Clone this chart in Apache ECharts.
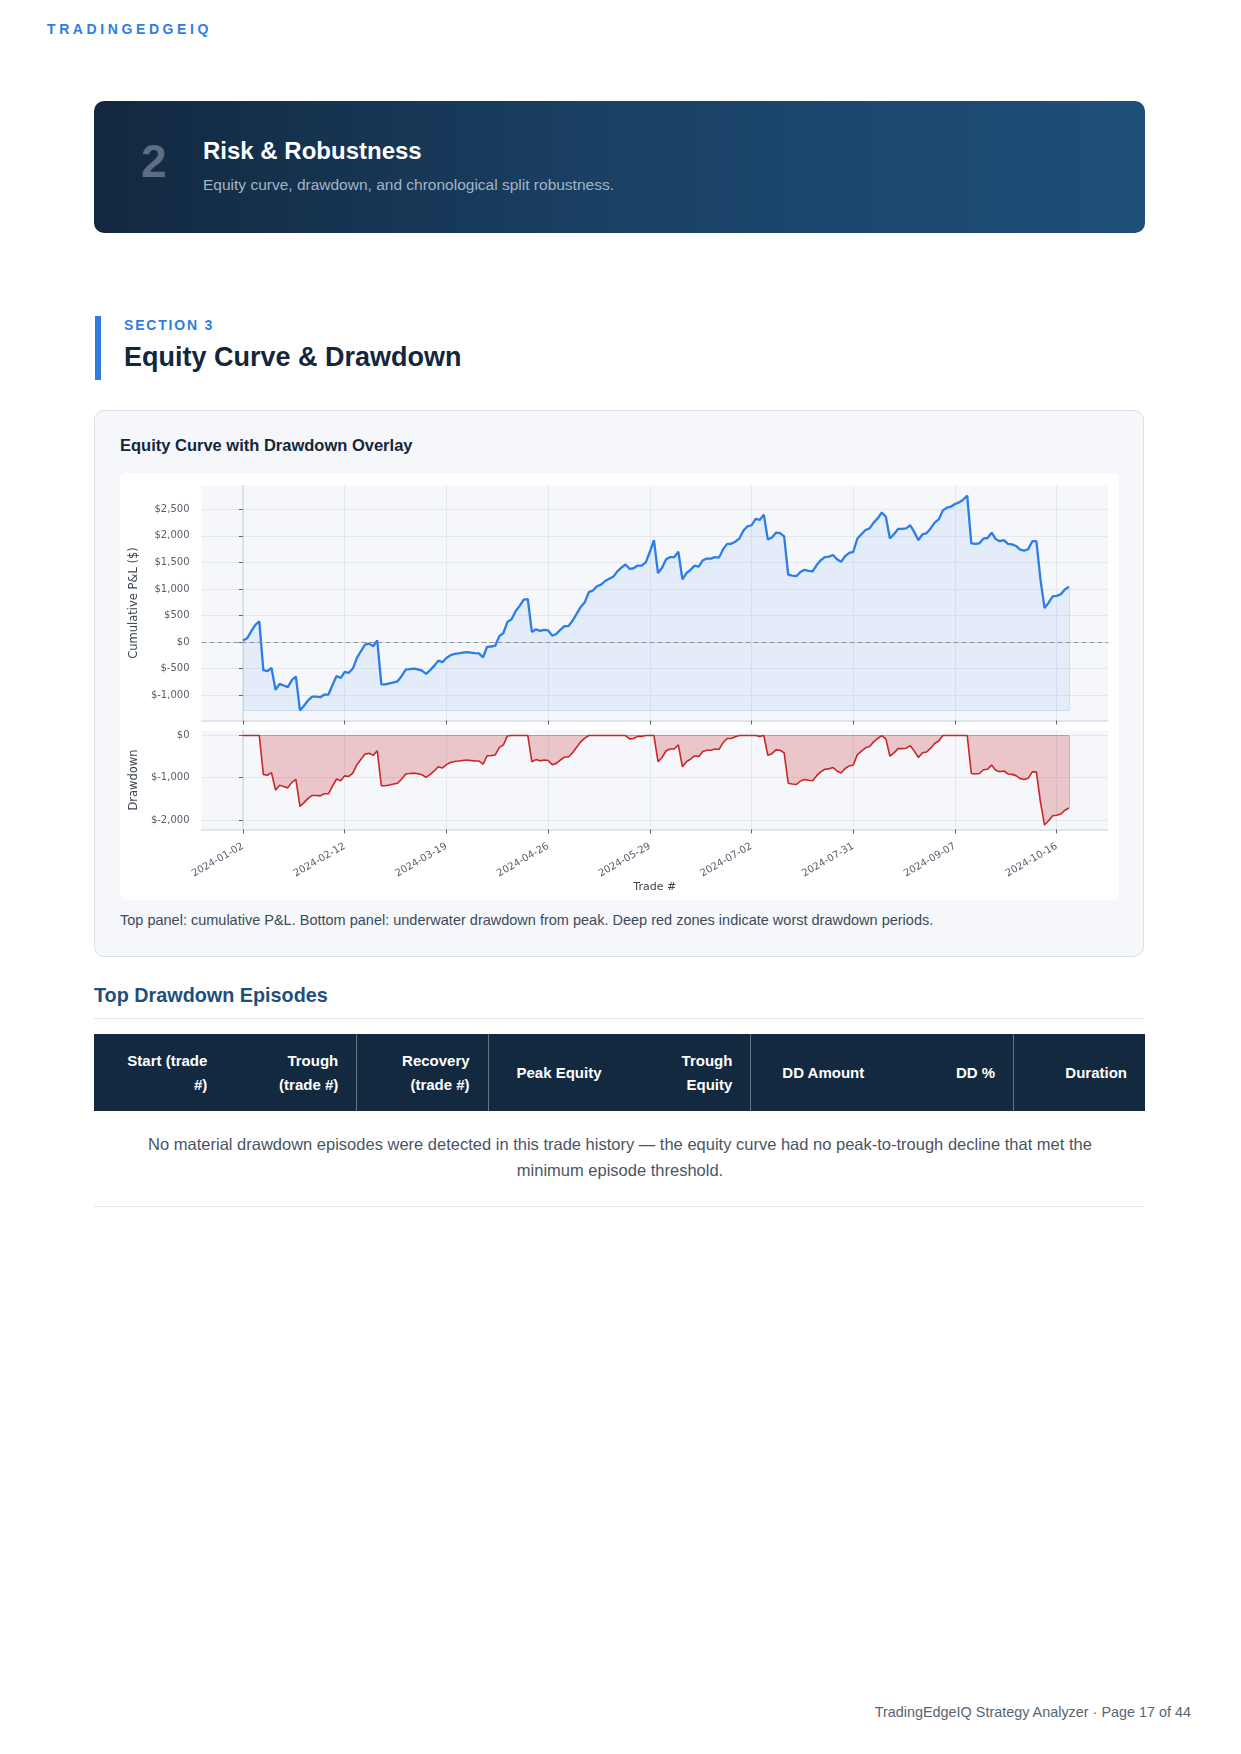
<!DOCTYPE html>
<html lang="en">

<head>
  <meta charset="UTF-8">
  <title>Equity Curve &amp; Drawdown</title>
  <style>
    body {
      margin: 0;
      background-color: #fff;
      font-family: "Liberation Sans", Arial, Helvetica, sans-serif;
    }

    .page {
      position: relative;
      width: 1241px;
      height: 1754px;
      overflow: hidden;
    }

    .abs {
      position: absolute;
      line-height: 1;
      white-space: nowrap;
    }

    .brand {
      left: 47px;
      top: 22px;
      font-size: 14px;
      font-weight: bold;
      letter-spacing: 3.6px;
      color: #2f7de1;
    }

    .banner {
      position: absolute;
      left: 94px;
      top: 101px;
      width: 1051px;
      height: 132px;
      border-radius: 10px;
      background: linear-gradient(90deg, #12283f 0%, #1a4165 50%, #1f4e7a 100%);
    }

    .banner .num {
      left: 47px;
      top: 37px;
      font-size: 46px;
      font-weight: bold;
      color: #5b6e85;
    }

    .banner .title {
      left: 109px;
      top: 38px;
      font-size: 24px;
      font-weight: bold;
      color: #fff;
    }

    .banner .sub {
      left: 109px;
      top: 76px;
      font-size: 15.5px;
      color: #a3b4c6;
    }

    .bar {
      position: absolute;
      left: 95px;
      top: 316px;
      width: 6px;
      height: 64px;
      background: #2f7de1;
    }

    .kicker {
      left: 124px;
      top: 318px;
      font-size: 14px;
      font-weight: bold;
      letter-spacing: 1.8px;
      color: #2f7de1;
    }

    .h1 {
      left: 124px;
      top: 343.5px;
      font-size: 27px;
      font-weight: bold;
      color: #14263c;
    }

    .card {
      position: absolute;
      left: 94px;
      top: 410px;
      width: 1048px;
      height: 545px;
      border: 1.5px solid #d8e0e9;
      border-radius: 10px;
      background: #f5f7fa;
    }

    .card-title {
      left: 120px;
      top: 437px;
      font-size: 16.5px;
      font-weight: bold;
      color: #14263c;
    }

    .chart {
      position: absolute;
      left: 120px;
      top: 473px;
      width: 999px;
      height: 427px;
      background: #fff;
      border-radius: 6px;
    }

    .caption {
      left: 120px;
      top: 913px;
      font-size: 14.5px;
      color: #3d4a5a;
    }

    .h2 {
      left: 94px;
      top: 986px;
      font-size: 19.8px;
      font-weight: bold;
      color: #1e4f7c;
    }

    .rule {
      position: absolute;
      left: 94px;
      width: 1051px;
      height: 1px;
      background: #e3e8ee;
    }

    table {
      position: absolute;
      left: 94px;
      top: 1034px;
      width: 1051px;
      border-collapse: collapse;
      table-layout: fixed;
    }

    th {
      height: 77px;
      padding: 0 18px;
      background: #13293f;
      color: #fff;
      font-size: 15px;
      font-weight: bold;
      line-height: 24px;
      text-align: right;
      vertical-align: middle;
    }

    th.sep {
      border-left: 1px solid rgba(255, 255, 255, 0.35);
    }

    .empty {
      position: absolute;
      left: 120px;
      top: 1132px;
      width: 1000px;
      font-size: 16.5px;
      line-height: 25.7px;
      text-align: center;
      color: #4a5563;
    }

    .footer {
      right: 50px;
      top: 1705px;
      font-size: 14.4px;
      color: #5a6472;
    }
  </style>
</head>

<body>
  <div class="page">
    <div class="abs brand">TRADINGEDGEIQ</div>

    <div class="banner">
      <div class="abs num">2</div>
      <div class="abs title">Risk &amp; Robustness</div>
      <div class="abs sub">Equity curve, drawdown, and chronological split robustness.</div>
    </div>

    <div class="bar"></div>
    <div class="abs kicker">SECTION 3</div>
    <div class="abs h1">Equity Curve &amp; Drawdown</div>

    <div class="card"></div>
    <div class="abs card-title">Equity Curve with Drawdown Overlay</div>
    <div class="chart" id="chart"></div>
    <div class="abs caption">Top panel: cumulative P&amp;L. Bottom panel: underwater drawdown from peak. Deep red zones indicate worst drawdown periods.</div>

    <div class="abs h2">Top Drawdown Episodes</div>
    <div class="rule" style="top: 1018px;"></div>
    <table>
      <thead>
        <tr>
          <th>Start (trade #)</th>
          <th>Trough (trade #)</th>
          <th class="sep">Recovery (trade #)</th>
          <th class="sep">Peak Equity</th>
          <th>Trough Equity</th>
          <th class="sep">DD Amount</th>
          <th>DD %</th>
          <th class="sep">Duration</th>
        </tr>
      </thead>
    </table>
    <div class="empty">No material drawdown episodes were detected in this trade history — the equity curve had no peak-to-trough decline that met the minimum episode threshold.</div>
    <div class="rule" style="top: 1206px;"></div>

    <div class="abs footer">TradingEdgeIQ Strategy Analyzer · Page 17 of 44</div>
  </div>

  <script src="https://cdn.jsdelivr.net/npm/echarts@6/dist/echarts.min.js"></script>
  <script>
    // cumulative P&L per trade
    const equity = [
      30, 70, 200, 320, 390, -530, -550, -490, -900, -790,
      -820, -850, -720, -650, -1290, -1200, -1100, -1030, -1030, -1040,
      -990, -990, -810, -640, -680, -565, -580, -500, -300, -170,
      -50, -30, -80, 30, -800, -800, -780, -760, -740, -640,
      -520, -510, -500, -515, -540, -600, -530, -450, -350, -380,
      -300, -250, -225, -215, -200, -190, -200, -210, -215, -290,
      -90, -85, -70, 110, 170, 380, 430, 580, 680, 800,
      810, 190, 240, 210, 230, 220, 120, 150, 230, 300,
      300, 400, 530, 660, 750, 940, 970, 1050, 1080, 1150,
      1190, 1230, 1330, 1400, 1460, 1380, 1390, 1440, 1440, 1500,
      1700, 1920, 1300, 1400, 1560, 1600, 1600, 1700, 1180, 1300,
      1360, 1440, 1420, 1540, 1570, 1570, 1600, 1590, 1750, 1850,
      1850, 1890, 1950, 2100, 2180, 2200, 2320, 2300, 2400, 1930,
      1970, 2060, 2050, 1990, 1270, 1250, 1240, 1320, 1360, 1340,
      1330, 1450, 1540, 1600, 1610, 1640, 1560, 1510, 1620, 1680,
      1700, 1950, 2030, 2110, 2140, 2250, 2330, 2440, 2360, 1950,
      2030, 2130, 2130, 2140, 2200, 2070, 1920, 2030, 2050, 2140,
      2250, 2310, 2480, 2530, 2550, 2600, 2630, 2680, 2760, 1860,
      1850, 1860, 1950, 1960, 2060, 1940, 1900, 1920, 1850, 1840,
      1810, 1740, 1720, 1750, 1900, 1900, 1180, 640, 740, 860,
      870, 900, 990, 1044
    ]

    const tickTrades = [0, 25, 50, 75, 100, 125, 150, 175, 200]
    const tickDates = ['2024-01-02', '2024-02-12', '2024-03-19', '2024-04-26', '2024-05-29',
      '2024-07-02', '2024-07-31', '2024-09-07', '2024-10-16']
    const pnlTicks = [-1000, -500, 0, 500, 1000, 1500, 2000, 2500]
    const ddTicks = [-2000, -1000, 0]

    // underwater curve: distance below the running peak
    const drawdown = []
    let peak = -Infinity
    equity.forEach(v => {
      peak = Math.max(peak, v)
      drawdown.push(v - peak)
    })

    const money = v => (v < 0 ? '$-' : '$') + Math.abs(v).toLocaleString('en-US')
    const font = 'DejaVu Sans'
    const equityMin = Math.min(...equity)
    const lastIdx = equity.length - 1

    const xBase = {
      type: 'value',
      min: -10.2,
      max: 212.6,
      axisLine: { show: true, onZero: false, lineStyle: { color: '#d6dde6', width: 1.5 } },
      axisTick: { show: true, customValues: tickTrades, length: 4, lineStyle: { color: '#5c6670', width: 1 } },
      splitLine: { show: true, lineStyle: { color: '#e3e8ee', width: 1 } }
    }

    const yBase = {
      type: 'value',
      nameLocation: 'middle',
      nameTextStyle: { color: '#3a4452', fontSize: 11.5, fontFamily: font },
      axisLine: { show: true, lineStyle: { color: '#d6dde6', width: 1.5 } },
      axisTick: { show: true, length: 4, lineStyle: { color: '#5c6670', width: 1 } },
      axisLabel: { color: '#555e6b', fontSize: 10, fontFamily: font, margin: 12, formatter: money },
      splitLine: { show: true, lineStyle: { color: '#e3e8ee', width: 1 } }
    }

    // outline of the filled regions (edge of the fill polygons)
    const edge = (pts, color) => ({
      silent: true,
      symbol: 'none',
      label: { show: false },
      lineStyle: { color: color, width: 1, type: 'solid' },
      data: pts
    })

    const option = {
      animation: false,
      grid: [
        { left: 81, top: 12.5, width: 907, height: 235, show: true, backgroundColor: '#f5f7fa', borderWidth: 0 },
        { left: 81, top: 257.5, width: 907, height: 99, show: true, backgroundColor: '#f5f7fa', borderWidth: 0 }
      ],
      xAxis: [
        Object.assign({}, xBase, { gridIndex: 0, axisLabel: { show: false } }),
        Object.assign({}, xBase, {
          gridIndex: 1,
          name: 'Trade #',
          nameLocation: 'middle',
          nameGap: 50,
          nameTextStyle: { color: '#3a4452', fontSize: 11, fontFamily: font },
          axisLabel: {
            customValues: tickTrades,
            rotate: 30,
            margin: 16,
            color: '#555e6b',
            fontSize: 10,
            fontFamily: font,
            formatter: v => tickDates[tickTrades.indexOf(v)]
          }
        })
      ],
      yAxis: [
        Object.assign({}, yBase, {
          gridIndex: 0,
          min: -1479,
          max: 2949,
          name: 'Cumulative P&L ($)',
          nameGap: 58,
          axisTick: Object.assign({}, yBase.axisTick, { customValues: pnlTicks }),
          axisLabel: Object.assign({}, yBase.axisLabel, { customValues: pnlTicks })
        }),
        Object.assign({}, yBase, {
          gridIndex: 1,
          min: -2226,
          max: 119,
          name: 'Drawdown',
          nameGap: 58,
          axisTick: Object.assign({}, yBase.axisTick, { customValues: ddTicks }),
          axisLabel: Object.assign({}, yBase.axisLabel, { customValues: ddTicks })
        })
      ],
      series: [
        {
          name: 'Equity fill edge',
          type: 'line',
          xAxisIndex: 0,
          yAxisIndex: 0,
          data: [],
          markLine: edge([
            [{ coord: [0, equityMin] }, { coord: [lastIdx, equityMin] }],
            [{ coord: [lastIdx, equityMin] }, { coord: [lastIdx, equity[lastIdx]] }]
          ], 'rgba(43,125,233,0.18)')
        },
        {
          name: 'Equity',
          type: 'line',
          xAxisIndex: 0,
          yAxisIndex: 0,
          data: equity.map((v, i) => [i, v]),
          showSymbol: false,
          lineStyle: { color: '#2b7de9', width: 2.3 },
          areaStyle: { origin: equityMin, color: 'rgba(43,125,233,0.12)' },
          markLine: {
            silent: true,
            symbol: 'none',
            label: { show: false },
            lineStyle: { color: '#8e959c', width: 1.2, type: [5, 3] },
            data: [{ yAxis: 0 }]
          }
        },
        {
          name: 'Drawdown',
          type: 'line',
          xAxisIndex: 1,
          yAxisIndex: 1,
          data: drawdown.map((v, i) => [i, v]),
          showSymbol: false,
          lineStyle: { color: '#c62828', width: 1.6 },
          areaStyle: { color: 'rgba(200,40,50,0.34)' },
          markLine: edge([
            [{ coord: [0, 0] }, { coord: [lastIdx, 0] }],
            [{ coord: [lastIdx, 0] }, { coord: [lastIdx, drawdown[lastIdx]] }]
          ], 'rgba(200,40,50,0.4)')
        }
      ]
    }

    const myChart = echarts.init(document.getElementById('chart'))
    myChart.setOption(option)
  </script>
</body>

</html>
